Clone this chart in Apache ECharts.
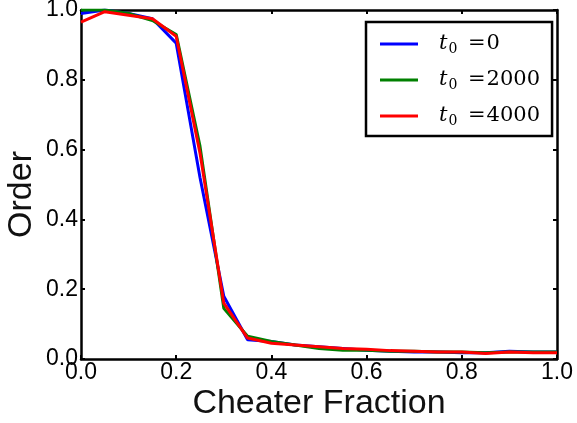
<!DOCTYPE html>
<html><head><meta charset="utf-8">
<script src="https://cdn.jsdelivr.net/npm/echarts@6/dist/echarts.min.js"></script>
<style>html,body{margin:0;padding:0;background:#fff}#c{width:577px;height:423px}</style>
</head><body><div id="c"></div>
<script>
const xValues = [0,0.05,0.1,0.15,0.2,0.25,0.3,0.35,0.4,0.45,0.5,0.55,0.6,0.65,0.7,0.75,0.8,0.85,0.9,0.95,1.0];
const seriesNames = ['t0=0','t0=2000','t0=4000'];
const legendValues = ['0','2000','4000'];
const blueVals  = [0.99,1.0,0.99,0.975,0.905,0.52,0.18,0.055,0.05,0.04,0.035,0.03,0.025,0.022,0.02,0.02,0.018,0.018,0.022,0.02,0.02];
const greenVals = [1.0,1.0,0.99,0.97,0.93,0.61,0.145,0.065,0.05,0.04,0.03,0.025,0.025,0.022,0.022,0.02,0.02,0.018,0.02,0.02,0.02];
const redVals   = [0.965,0.995,0.985,0.975,0.925,0.59,0.16,0.06,0.045,0.04,0.035,0.03,0.028,0.024,0.022,0.02,0.02,0.016,0.02,0.018,0.018];
const colors = ['#0000ff','#008000','#ff0000'];
const allVals = [blueVals, greenVals, redVals];

const chart = echarts.init(document.getElementById('c'));
const sans = 'Liberation Sans';
const axisCommon = {
  min: 0, max: 1, interval: 0.2,
  axisLine: {show: true, onZero: false, lineStyle: {color: '#000', width: 2.5}},
  axisTick: {show: true, inside: true, length: 4, lineStyle: {color: '#000', width: 2}},
  splitLine: {show: false}
};
chart.setOption({
  animation: false,
  backgroundColor: '#fff',
  grid: {left: 81, right: 20, top: 10, bottom: 64, containLabel: false, outerBoundsMode: 'none'},
  xAxis: [
    Object.assign({type: 'value', position: 'bottom',
      name: 'Cheater Fraction', nameLocation: 'middle', nameGap: 28, nameMoveOverlap: false,
      nameTextStyle: {fontFamily: sans, fontSize: 34, color: '#111'},
      axisLabel: {fontFamily: sans, fontSize: 23, color: '#000', margin: 2, formatter: v => v.toFixed(1)}}, axisCommon),
    Object.assign({type: 'value', position: 'top', axisLabel: {show: false}}, axisCommon)
  ],
  yAxis: [
    Object.assign({type: 'value', position: 'left',
      name: 'Order', nameLocation: 'middle', nameGap: 42, nameMoveOverlap: false,
      nameTextStyle: {fontFamily: sans, fontSize: 34, color: '#111', padding: [0, 20, 0, 0]},
      axisLabel: {fontFamily: sans, fontSize: 23, color: '#000', margin: 3, formatter: v => v.toFixed(1)}}, axisCommon),
    Object.assign({type: 'value', position: 'right', axisLabel: {show: false}}, axisCommon)
  ],
  legend: {
    orient: 'vertical', left: 366, top: 22,
    data: seriesNames,
    icon: 'rect', itemWidth: 38, itemHeight: 3, itemGap: 12,
    padding: [10, 12, 8, 14],
    borderColor: '#000', borderWidth: 2.5, backgroundColor: '#fff',
    formatter: function (name) {
      const i = seriesNames.indexOf(name);
      return '{t|t}{s|0}{e| =}{n|' + legendValues[i] + '}';
    },
    textStyle: {
      padding: [0, 0, 0, 16],
      rich: {
        t: {fontFamily: 'DejaVu Serif', fontStyle: 'italic', fontSize: 21, color: '#000'},
        s: {fontFamily: 'DejaVu Serif', fontSize: 14, color: '#000', padding: [10, 0, 0, 1]},
        e: {fontFamily: 'DejaVu Serif', fontSize: 21, color: '#000', padding: [0, 1, 0, 4]},
        n: {fontFamily: 'DejaVu Serif', fontSize: 21, color: '#000'}
      },
      height: 24, lineHeight: 24
    }
  },
  series: allVals.map((vals, i) => ({
    name: seriesNames[i], type: 'line', xAxisIndex: 0, yAxisIndex: 0,
    data: xValues.map((x, j) => [x, vals[j]]),
    showSymbol: false, symbol: 'none',
    lineStyle: {color: colors[i], width: 3},
    itemStyle: {color: colors[i]}
  }))
});
</script></body></html>
